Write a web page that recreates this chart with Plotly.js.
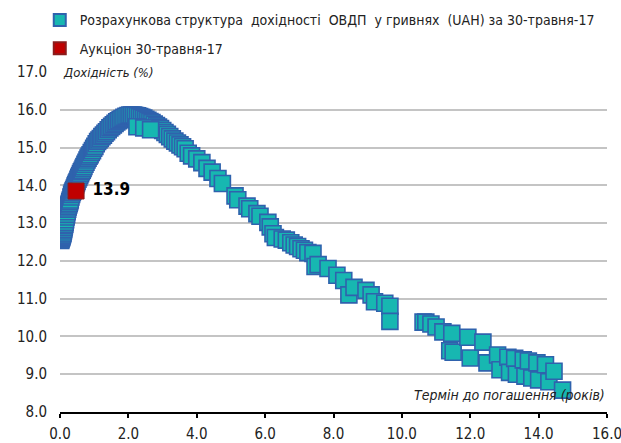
<!DOCTYPE html>
<html>
<head>
<meta charset="utf-8">
<script src="https://cdn.plot.ly/plotly-3.0.1.min.js"></script>
<style>html,body{margin:0;padding:0;background:#fff;}#chart{width:621px;height:443px;}</style>
</head>
<body>
<div id="chart"></div>
<script>
// Calculated UAH OVDP yield curve (term in years, yield %)
const curveTerm = [
  0.02,0.03,0.04,0.05,0.06,0.07,0.08,0.09,0.10,0.11,
  0.12,0.13,0.14,0.15,0.165,0.18,0.195,0.21,0.225,0.24,
  0.255,0.27,0.285,0.30,0.32,0.34,0.36,0.38,0.40,0.42,
  0.44,0.46,0.48,0.50,0.525,0.55,0.575,0.60,0.625,0.65,
  0.675,0.70,0.73,0.76,0.79,0.82,0.85,0.88,0.915,0.95,
  0.985,1.02,1.06,1.10,1.14,1.18,1.225,1.27,1.315,1.36,
  1.41,1.46,1.51,1.56,1.61,1.66,1.71,1.76,1.815,1.87,
  1.93,1.99,2.045,2.10,2.155,2.21,2.27,2.33,2.39,2.45,
  2.51,2.57,2.63,2.69,2.755,2.82,2.88,2.94,3.005,3.07,
  3.14,3.21,3.285,3.36,3.435,3.51,3.585,3.66,
  2.25,2.45,2.65,
  3.75,3.85,4.00,4.15,4.30,4.45,4.62,4.75,5.12,5.20,5.47,
  5.55,5.76,5.85,6.08,6.15,6.23,6.30,6.50,6.62,6.75,6.85,6.95,7.05,7.15,7.25,7.40,7.46,7.55,7.84,8.10,
  8.30,8.45,8.60,8.95,9.10,9.20,9.50,9.65,9.65,
  10.62,10.70,10.85,11.00,11.20,11.46,11.40,11.50,11.93,12.00,12.37,12.49,12.80,12.87,13.10,13.15,13.30,
  13.35,13.55,13.60,13.70,13.80,13.95,14.00,14.20,14.30,14.45,14.70
];
const curveYield = [
  12.54,12.57,12.60,12.62,12.65,12.68,12.71,12.74,12.79,12.83,
  12.88,12.93,12.97,13.02,13.09,13.16,13.23,13.30,13.37,13.43,
  13.48,13.52,13.57,13.61,13.69,13.76,13.81,13.85,13.89,13.93,
  13.98,14.02,14.06,14.10,14.16,14.21,14.26,14.31,14.36,14.40,
  14.45,14.50,14.56,14.61,14.67,14.72,14.77,14.81,14.87,14.92,
  14.98,15.03,15.10,15.16,15.20,15.24,15.29,15.33,15.38,15.42,
  15.47,15.52,15.56,15.60,15.64,15.68,15.71,15.74,15.77,15.80,
  15.83,15.85,15.86,15.86,15.86,15.85,15.84,15.82,15.80,15.78,
  15.75,15.72,15.69,15.66,15.62,15.58,15.54,15.50,15.45,15.40,
  15.35,15.29,15.23,15.17,15.12,15.07,15.02,14.97,
  15.55,15.52,15.47,
  14.85,14.78,14.70,14.60,14.45,14.35,14.18,14.05,13.72,13.62,13.45,
  13.38,13.25,13.18,13.02,12.90,12.72,12.62,12.58,12.55,12.48,12.42,12.38,12.32,12.28,12.22,12.20,11.85,11.90,11.80,11.62,
  11.48,11.10,11.30,11.22,11.10,10.92,10.88,10.80,10.40,
  10.38,10.38,10.33,10.25,10.12,10.08,9.62,9.58,9.98,9.43,9.85,9.30,9.51,9.12,9.45,9.05,9.42,
  9.00,9.38,8.95,9.35,8.90,9.30,8.85,9.25,8.80,9.08,8.58
];
// Auction point
const auctionTerm = [0.47];
const auctionYield = [13.85];
const auctionLabel = ["13.9"];

const legendCurve = "Розрахункова структура  дохідності  ОВДП  у гривнях  (UAH) за 30-травня-17";
const legendAuction = "Аукціон 30-травня-17";
const yTitle = "Дохідність (%)";
const xTitle = "Термін до погашення (років)";

const FONT = "'Liberation Sans Narrow', 'DejaVu Sans Condensed', 'Arial Narrow', sans-serif";

const traces = [
  {
    x: curveTerm, y: curveYield, type: 'scatter', mode: 'markers',
    name: legendCurve, legendgroup: 'a',
    marker: {symbol: 'square', size: 16, color: '#17b7b1', line: {color: '#2f62ad', width: 1.6}},
    hoverinfo: 'x+y'
  },
  {
    x: auctionTerm, y: auctionYield, type: 'scatter', mode: 'markers+text',
    name: legendAuction, legendgroup: 'b',
    text: auctionLabel, texttemplate: '\u00a0%{text}', textposition: 'middle right',
    textfont: {family: FONT, size: 17, color: '#000', weight: 'bold'},
    marker: {symbol: 'square', size: 16, color: '#c00000', line: {color: '#8a1c1c', width: 1}},
    hoverinfo: 'x+y'
  }
];

const layout = {
  width: 621, height: 443,
  margin: {l: 60, r: 14, t: 72, b: 31, autoexpand: false},
  paper_bgcolor: '#fff', plot_bgcolor: '#fff',
  font: {family: FONT, size: 14, color: '#222'},
  showlegend: true,
  legend: {
    x: -0.037, y: 1.199, xanchor: 'left', yanchor: 'top',
    orientation: 'v', traceorder: 'grouped', tracegroupgap: 7,
    itemsizing: 'constant', bgcolor: 'rgba(0,0,0,0)',
    font: {family: FONT, size: 14, color: '#222'}
  },
  xaxis: {
    range: [0, 16], dtick: 2, tick0: 0, tickformat: '.1f',
    showgrid: false, zeroline: false,
    showline: true, linecolor: '#000', linewidth: 2,
    ticks: 'outside', ticklen: 4, tickwidth: 2, tickcolor: '#000',
    ticklabelstandoff: 3, ticklabeloverflow: 'allow',
    tickfont: {family: FONT, size: 15, color: '#222'}
  },
  yaxis: {
    range: [8, 17], dtick: 1, tick0: 8, tickformat: '.1f',
    showgrid: true, gridcolor: '#c4c4c4', gridwidth: 2,
    zeroline: false, showline: false, ticks: '',
    ticklabelstandoff: 12,
    tickfont: {family: FONT, size: 15, color: '#222'}
  },
  annotations: [
    {xref: 'paper', yref: 'y', x: 0, y: 17, xanchor: 'left', yanchor: 'middle',
     text: '<i>' + yTitle + '</i>', showarrow: false, bgcolor: '#fff', borderpad: 2,
     font: {family: FONT, size: 13, color: '#222'}},
    {xref: 'paper', yref: 'y', x: 1, y: 8.45, xanchor: 'right', yanchor: 'middle',
     text: '<i>' + xTitle + '</i>', showarrow: false,
     font: {family: FONT, size: 14, color: '#222'}}
  ]
};

Plotly.newPlot('chart', traces, layout, {displayModeBar: false, staticPlot: true});
</script>
</body>
</html>
